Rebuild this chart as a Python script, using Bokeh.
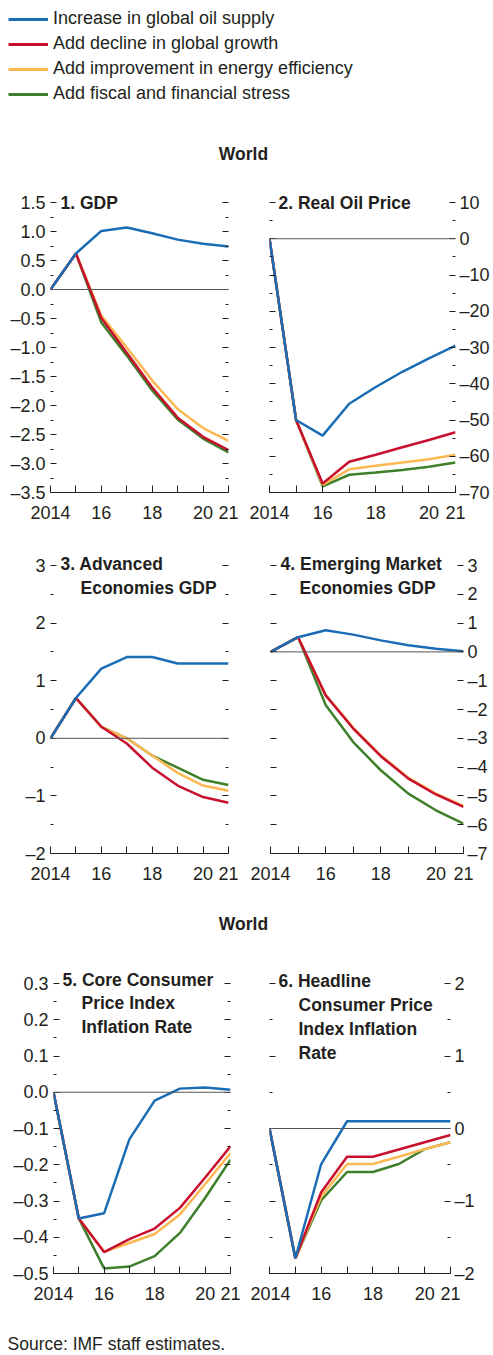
from bokeh.plotting import figure
from bokeh.models import Range1d, FixedTicker, LinearAxis, Span, Label, Legend, LegendItem
from bokeh.layouts import column, row
from bokeh.embed import file_html
from bokeh.resources import INLINE

# ---------------- data ----------------
YEARS = [2014, 2015, 2016, 2017, 2018, 2019, 2020, 2021]
X_TICK_LABELS = ["2014", "", "16", "", "18", "", "20", "21"]

SERIES = ["Increase in global oil supply", "Add decline in global growth",
          "Add improvement in energy efficiency", "Add fiscal and financial stress"]
COLORS = ["#1a6db5", "#c8102e", "#fdb853", "#3d7f2a"]

GDP_SUPPLY = [0, 0.62, 1.01, 1.07, 0.97, 0.86, 0.79, 0.74]
GDP_GROWTH = [0, 0.62, -0.49, -1.09, -1.69, -2.21, -2.54, -2.77]
GDP_EFFICIENCY = [0, 0.62, -0.45, -1.0, -1.57, -2.06, -2.39, -2.61]
GDP_FISCAL = [0, 0.62, -0.57, -1.14, -1.74, -2.24, -2.57, -2.81]

OIL_SUPPLY = [0, -50, -54.3, -45.5, -40.9, -36.7, -33.0, -29.5]
OIL_GROWTH = [0, -50, -67.5, -61.5, -59.6, -57.5, -55.5, -53.4]
OIL_EFFICIENCY = [0, -50, -67.9, -63.6, -62.6, -61.7, -60.8, -59.6]
OIL_FISCAL = [0, -50, -68.3, -65.1, -64.5, -63.8, -62.9, -61.7]

AE_SUPPLY = [0, 0.7, 1.21, 1.41, 1.41, 1.3, 1.3, 1.3]
AE_GROWTH = [0, 0.7, 0.2, -0.09, -0.51, -0.82, -1.02, -1.12]
AE_EFFICIENCY = [0, 0.7, 0.2, 0.0, -0.3, -0.6, -0.82, -0.91]
AE_FISCAL = [0, 0.7, 0.2, 0.0, -0.3, -0.51, -0.72, -0.81]

EM_SUPPLY = [0, 0.51, 0.75, 0.6, 0.4, 0.23, 0.11, 0.02]
EM_GROWTH = [0, 0.51, -1.51, -2.66, -3.62, -4.4, -4.95, -5.38]
EM_EFFICIENCY = [0, 0.51, -1.49, -2.63, -3.59, -4.37, -4.92, -5.35]
EM_FISCAL = [0, 0.51, -1.84, -3.13, -4.11, -4.92, -5.5, -5.96]

CORE_SUPPLY = [0, -0.348, -0.334, -0.13, -0.023, 0.01, 0.013, 0.007]
CORE_GROWTH = [0, -0.348, -0.441, -0.405, -0.376, -0.319, -0.235, -0.149]
CORE_EFFICIENCY = [0, -0.348, -0.44, -0.416, -0.391, -0.337, -0.253, -0.168]
CORE_FISCAL = [0, -0.348, -0.486, -0.481, -0.452, -0.388, -0.291, -0.186]

HEAD_SUPPLY = [0, -1.79, -0.49, 0.1, 0.1, 0.1, 0.1, 0.1]
HEAD_GROWTH = [0, -1.79, -0.88, -0.39, -0.39, -0.29, -0.19, -0.09]
HEAD_EFFICIENCY = [0, -1.79, -0.94, -0.49, -0.49, -0.39, -0.285, -0.19]
HEAD_FISCAL = [0, -1.79, -0.99, -0.6, -0.6, -0.49, -0.285, -0.19]

P1_YTICKS = [-3.5, -3.0, -2.5, -2.0, -1.5, -1.0, -0.5, 0.0, 0.5, 1.0, 1.5]
P1_YLABELS = ["–3.5", "–3.0", "–2.5", "–2.0", "–1.5", "–1.0", "–0.5", "0.0", "0.5", "1.0", "1.5"]
P1_YMINOR = [-3.25, -2.75, -2.25, -1.75, -1.25, -0.75, -0.25, 0.25, 0.75, 1.25]

P2_YTICKS = [-70, -60, -50, -40, -30, -20, -10, 0, 10]
P2_YLABELS = ["–70", "–60", "–50", "–40", "–30", "–20", "–10", "0", "10"]
P2_YMINOR = [-65, -55, -45, -35, -25, -15, -5, 5]

P3_YTICKS = [-2, -1, 0, 1, 2, 3]
P3_YLABELS = ["–2", "–1", "0", "1", "2", "3"]
P3_YMINOR = [-1.5, -0.5, 0.5, 1.5, 2.5]

P4_YTICKS = [-7, -6, -5, -4, -3, -2, -1, 0, 1, 2, 3]
P4_YLABELS = ["–7", "–6", "–5", "–4", "–3", "–2", "–1", "0", "1", "2", "3"]
P4_YMINOR = []

P5_YTICKS = [-0.5, -0.4, -0.3, -0.2, -0.1, 0.0, 0.1, 0.2, 0.3]
P5_YLABELS = ["–0.5", "–0.4", "–0.3", "–0.2", "–0.1", "0.0", "0.1", "0.2", "0.3"]
P5_YMINOR = [-0.45, -0.35, -0.25, -0.15, -0.05, 0.05, 0.15, 0.25]

P6_YTICKS = [-2, -1, 0, 1, 2]
P6_YLABELS = ["–2", "–1", "0", "1", "2"]
P6_YMINOR = [-1.5, -0.5, 0.5, 1.5]

# ---------------- styling ----------------
FONT = "Liberation Sans"
TXT = "#231f20"
TICK = "#231f20"
FS = "18px"
TFS = "17.5px"
PAD = 14  # free pixels above the top tick so that panel titles are not clipped


def y_axis(ticks, minor, labels, show, standoff):
    overrides = dict(zip(ticks, labels if show else [""] * len(ticks)))
    return LinearAxis(ticker=FixedTicker(ticks=ticks, minor_ticks=minor),
                      major_label_overrides=overrides,
                      axis_line_color=None,
                      major_tick_in=6, major_tick_out=0,
                      minor_tick_in=3, minor_tick_out=0,
                      major_tick_line_color=TICK, minor_tick_line_color=TICK,
                      major_label_standoff=standoff,
                      major_label_text_font=FONT,
                      major_label_text_font_size=FS if show else "0px",
                      major_label_text_color=TXT)


def panel(data, yr, ticks, minor, labels, label_side, fw, fh, borders, titles):
    bl, br, bb = borders
    ybot, ytop = yr
    ext = ytop + PAD * (ytop - ybot) / fh
    p = figure(frame_width=fw, frame_height=fh + PAD,
               x_range=Range1d(YEARS[0], YEARS[-1]), y_range=Range1d(ybot, ext),
               x_axis_type=None, y_axis_type=None,
               min_border_left=bl, min_border_right=br,
               min_border_top=0, min_border_bottom=bb,
               toolbar_location=None, output_backend="svg")
    p.outline_line_color = None

    xa = LinearAxis(ticker=FixedTicker(ticks=YEARS, minor_ticks=[]),
                    major_label_overrides=dict(zip(YEARS, X_TICK_LABELS)),
                    axis_line_color=TICK, axis_line_width=1,
                    major_tick_in=7, major_tick_out=0,
                    minor_tick_in=0, minor_tick_out=0,
                    major_tick_line_color=TICK,
                    major_label_standoff=13,
                    major_label_text_font=FONT, major_label_text_font_size=FS,
                    major_label_text_color=TXT)
    p.add_layout(xa, "below")
    p.add_layout(y_axis(ticks, minor, labels, label_side == "left", 5), "left")
    p.add_layout(y_axis(ticks, minor, labels, label_side == "right", 4), "right")

    p.add_layout(Span(location=0, dimension="width", line_color="#555555", line_width=1))

    for vals, c in reversed(list(zip(data, COLORS))):
        p.line(YEARS, vals, line_color=c, line_width=2.5)

    for text, dx, dy in titles:
        x = YEARS[0] + dx * (YEARS[-1] - YEARS[0]) / fw
        y = ytop - dy * (ytop - ybot) / fh
        p.add_layout(Label(x=x, y=y, text=text, text_font=FONT, text_font_style="bold",
                           text_font_size=TFS, text_color=TXT,
                           text_align="left", text_baseline="middle"))
    return p


p1 = panel([GDP_SUPPLY, GDP_GROWTH, GDP_EFFICIENCY, GDP_FISCAL], (-3.5, 1.5),
           P1_YTICKS, P1_YMINOR, P1_YLABELS, "left", 178, 290, (50, 20, 59),
           [("1. GDP", 10, 0)])
p2 = panel([OIL_SUPPLY, OIL_GROWTH, OIL_EFFICIENCY, OIL_FISCAL], (-70, 10),
           P2_YTICKS, P2_YMINOR, P2_YLABELS, "right", 186, 290, (21, 35, 59),
           [("2. Real Oil Price", 9, 0)])
p3 = panel([AE_SUPPLY, AE_GROWTH, AE_EFFICIENCY, AE_FISCAL], (-2, 3),
           P3_YTICKS, P3_YMINOR, P3_YLABELS, "left", 178, 288, (50, 20, 47),
           [("3. Advanced", 10, -2), ("Economies GDP", 30, 22)])
p4 = panel([EM_SUPPLY, EM_GROWTH, EM_EFFICIENCY, EM_FISCAL], (-7, 3),
           P4_YTICKS, P4_YMINOR, P4_YLABELS, "right", 193, 288, (22, 28, 47),
           [("4. Emerging Market", 10, -2), ("Economies GDP", 29, 22)])
p5 = panel([CORE_SUPPLY, CORE_GROWTH, CORE_EFFICIENCY, CORE_FISCAL], (-0.5, 0.3),
           P5_YTICKS, P5_YMINOR, P5_YLABELS, "left", 177, 290, (53, 20, 37),
           [("5. Core Consumer", 9, -4), ("Price Index", 28, 19), ("Inflation Rate", 28, 43)])
p6 = panel([HEAD_SUPPLY, HEAD_GROWTH, HEAD_EFFICIENCY, HEAD_FISCAL], (-2, 2),
           P6_YTICKS, P6_YMINOR, P6_YLABELS, "right", 181, 290, (19, 28, 37),
           [("6. Headline", 9, -3), ("Consumer Price", 29, 21), ("Index Inflation", 29, 45),
            ("Rate", 29, 69)])


def text_fig(h):
    f = figure(width=493, height=h, x_range=Range1d(0, 493), y_range=Range1d(0, h),
               x_axis_type=None, y_axis_type=None, min_border=0,
               toolbar_location=None, output_backend="svg")
    f.outline_line_color = None
    return f


top = text_fig(188)
items = []
for name, c, vals in zip(SERIES, COLORS, [GDP_SUPPLY, GDP_GROWTH, GDP_EFFICIENCY, GDP_FISCAL]):
    # series drawn outside this figure's visible range; used only as legend keys
    r = top.line(YEARS, vals, line_color=c, line_width=3)
    items.append(LegendItem(label=name, renderers=[r]))
top.add_layout(Legend(items=items, location="top_left", margin=8, padding=0, spacing=4,
                      glyph_width=40, glyph_height=18, label_height=18, label_standoff=5,
                      label_text_font=FONT, label_text_font_size=FS, label_text_color=TXT,
                      border_line_color=None, background_fill_alpha=0))
top.add_layout(Label(x=243, y=35, text="World", text_font=FONT, text_font_style="bold",
                     text_font_size=TFS, text_color=TXT, text_align="center",
                     text_baseline="middle"))

mid = text_fig(69)
mid.add_layout(Label(x=243, y=46, text="World", text_font=FONT, text_font_style="bold",
                     text_font_size=TFS, text_color=TXT, text_align="center",
                     text_baseline="middle"))

src = text_fig(45)
src.add_layout(Label(x=7, y=2, text="Source: IMF staff estimates.", text_font=FONT,
                     text_font_size="17.5px", text_color=TXT, text_align="left",
                     text_baseline="bottom"))

layout = column(top, row(p1, p2), row(p3, p4), mid, row(p5, p6), src)

open("out.html", "w").write(file_html(layout, INLINE))
